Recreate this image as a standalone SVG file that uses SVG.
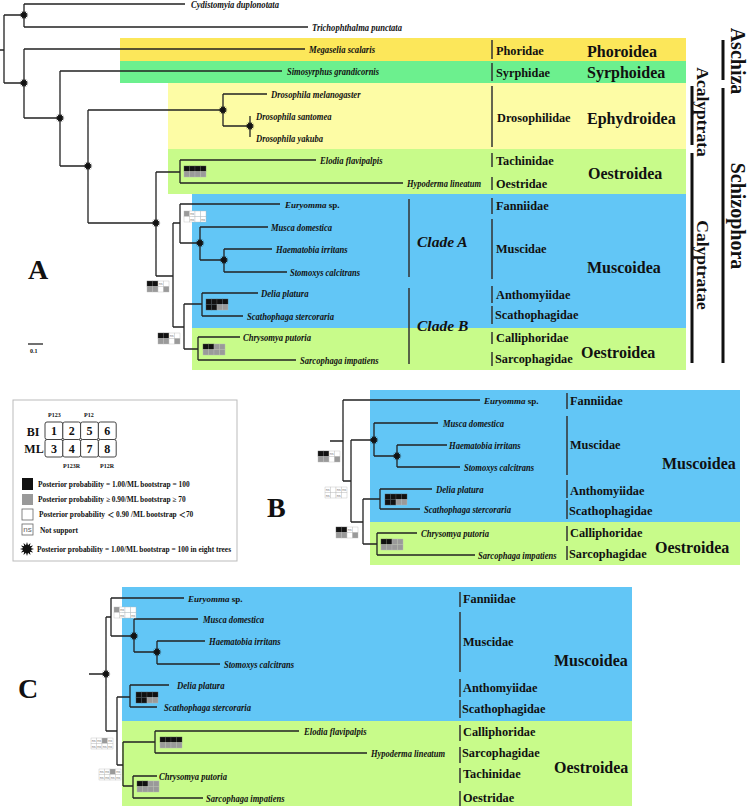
<svg xmlns="http://www.w3.org/2000/svg" width="750" height="809" viewBox="0 0 750 809">
<style>
.ln{fill:none;stroke:#222;stroke-width:1.3}
.bar{fill:none;stroke:#333;stroke-width:1.5}
.tbar{fill:none;stroke:#111;stroke-width:3}
.sp{font-family:"Liberation Serif",serif;font-style:italic;font-weight:bold;font-size:10.5px;fill:#111;dominant-baseline:central}
.eu{font-family:"Liberation Serif",serif;font-style:italic;font-weight:bold;font-size:9px;fill:#111;dominant-baseline:central}
.up{font-style:normal}
.fm{font-family:"Liberation Serif",serif;font-weight:bold;font-size:12.3px;fill:#111;dominant-baseline:central}
.sf{font-family:"Liberation Serif",serif;font-weight:bold;font-size:16px;fill:#111;dominant-baseline:central}
.cl{font-family:"Liberation Serif",serif;font-weight:bold;font-style:italic;font-size:15.5px;fill:#111;dominant-baseline:central}
.rt{font-family:"Liberation Serif",serif;font-weight:bold;fill:#111;dominant-baseline:central;text-anchor:middle}
.big{font-family:"Liberation Serif",serif;font-weight:bold;font-size:28px;fill:#111;dominant-baseline:central}
.lg{font-family:"Liberation Serif","Noto Sans CJK SC",serif;font-weight:bold;font-size:7.4px;fill:#111;dominant-baseline:central}
.sm{font-family:"Liberation Serif",serif;font-weight:bold;font-size:6px;fill:#111;dominant-baseline:central}
.gn{font-family:"Liberation Serif",serif;font-weight:bold;font-size:12px;fill:#111;dominant-baseline:central;text-anchor:middle}
.ck{fill:#111;stroke:#555;stroke-width:.4}
.cg{fill:#9a9a9a;stroke:#bbb;stroke-width:.4}
.cw{fill:#fff;stroke:#bbb;stroke-width:.4}
.nt{font-family:"Liberation Sans",sans-serif;font-size:3.8px;fill:#777;text-anchor:middle}
.star{fill:#111}
</style>
<defs>
<polygon id="star" points="1,0 .55,.147 .866,.5 .403,.403 .5,.866 .147,.55 0,1 -.147,.55 -.5,.866 -.403,.403 -.866,.5 -.55,.147 -1,0 -.55,-.147 -.866,-.5 -.403,-.403 -.5,-.866 -.147,-.55 0,-1 .147,-.55 .5,-.866 .403,-.403 .866,-.5 .55,-.147"/>
<g id="nsc"><rect class="cw" width="5.5" height="5.5"/><text class="nt" x="2.75" y="4.1">ns</text></g>
<g id="b1"><rect class="ck" x="0" y="0" width="5.5" height="5.5"/><rect class="ck" x="5.5" y="0" width="5.5" height="5.5"/><rect class="ck" x="11" y="0" width="5.5" height="5.5"/><rect class="ck" x="16.5" y="0" width="5.5" height="5.5"/><rect class="cg" x="0" y="5.5" width="5.5" height="5.5"/><rect class="cg" x="5.5" y="5.5" width="5.5" height="5.5"/><rect class="cg" x="11" y="5.5" width="5.5" height="5.5"/><rect class="cg" x="16.5" y="5.5" width="5.5" height="5.5"/></g>
<g id="b2"><rect class="ck" x="0" y="0" width="5.5" height="5.5"/><rect class="ck" x="5.5" y="0" width="5.5" height="5.5"/><rect class="ck" x="11" y="0" width="5.5" height="5.5"/><rect class="ck" x="16.5" y="0" width="5.5" height="5.5"/><rect class="ck" x="0" y="5.5" width="5.5" height="5.5"/><rect class="ck" x="5.5" y="5.5" width="5.5" height="5.5"/><rect class="cg" x="11" y="5.5" width="5.5" height="5.5"/><rect class="cg" x="16.5" y="5.5" width="5.5" height="5.5"/></g>
<g id="b3"><rect class="ck" x="0" y="0" width="5.5" height="5.5"/><rect class="ck" x="5.5" y="0" width="5.5" height="5.5"/><rect class="cg" x="11" y="0" width="5.5" height="5.5"/><rect class="cg" x="16.5" y="0" width="5.5" height="5.5"/><rect class="cg" x="0" y="5.5" width="5.5" height="5.5"/><rect class="cg" x="5.5" y="5.5" width="5.5" height="5.5"/><rect class="cg" x="11" y="5.5" width="5.5" height="5.5"/><rect class="cg" x="16.5" y="5.5" width="5.5" height="5.5"/></g>
<g id="b4"><rect class="ck" x="0" y="0" width="5.5" height="5.5"/><rect class="ck" x="5.5" y="0" width="5.5" height="5.5"/><use href="#nsc" x="11" y="0"/><rect class="cw" x="16.5" y="0" width="5.5" height="5.5"/><rect class="cg" x="0" y="5.5" width="5.5" height="5.5"/><rect class="cg" x="5.5" y="5.5" width="5.5" height="5.5"/><rect class="cw" x="11" y="5.5" width="5.5" height="5.5"/><rect class="cg" x="16.5" y="5.5" width="5.5" height="5.5"/></g>
<g id="b5"><rect class="cg" x="0" y="0" width="5.5" height="5.5"/><use href="#nsc" x="5.5" y="0"/><rect class="cw" x="11" y="0" width="5.5" height="5.5"/><rect class="cw" x="16.5" y="0" width="5.5" height="5.5"/><rect class="cw" x="0" y="5.5" width="5.5" height="5.5"/><use href="#nsc" x="5.5" y="5.5"/><rect class="cw" x="11" y="5.5" width="5.5" height="5.5"/><use href="#nsc" x="16.5" y="5.5"/></g>
<g id="b6"><use href="#nsc" x="0" y="0"/><rect class="cw" x="5.5" y="0" width="5.5" height="5.5"/><use href="#nsc" x="11" y="0"/><use href="#nsc" x="16.5" y="0"/><use href="#nsc" x="0" y="5.5"/><rect class="cw" x="5.5" y="5.5" width="5.5" height="5.5"/><use href="#nsc" x="11" y="5.5"/><rect class="cw" x="16.5" y="5.5" width="5.5" height="5.5"/></g>
<g id="b7"><use href="#nsc" x="0" y="0"/><use href="#nsc" x="5.5" y="0"/><rect class="cg" x="11" y="0" width="5.5" height="5.5"/><use href="#nsc" x="16.5" y="0"/><use href="#nsc" x="0" y="5.5"/><use href="#nsc" x="5.5" y="5.5"/><use href="#nsc" x="11" y="5.5"/><use href="#nsc" x="16.5" y="5.5"/></g>
</defs>
<rect width="750" height="809" fill="#fff"/>

<g id="backgrounds">
<rect x="120" y="38" width="566" height="23" fill="#FCE75A"/>
<rect x="120" y="61" width="566" height="22" fill="#6CF08E"/>
<rect x="168" y="83" width="518" height="66" fill="#FDFCA5"/>
<rect x="168" y="149" width="518" height="45" fill="#C8FB8A"/>
<rect x="192" y="194" width="494" height="134" fill="#62C6F6"/>
<rect x="192" y="328" width="494" height="42" fill="#C8FB8A"/>
<rect x="370" y="390" width="370" height="132" fill="#62C6F6"/>
<rect x="370" y="522" width="370" height="43" fill="#C8FB8A"/>
<rect x="122" y="587" width="510" height="134" fill="#62C6F6"/>
<rect x="122" y="721" width="510" height="85" fill="#C8FB8A"/>
</g>

<g id="connectors">
<path class="ln" d="M0,50H4M4,15V83M4,15H24M24,4V27M24,4H185M24,27H308M4,83H24M24,49V118M24,49H305M24,118H60M60,71V166M60,71H282M60,166H88M88,110V223M88,110H223M88,223H156M223,94V126M223,94H267M223,126H250M250,116V137M156,172V276M156,172H180M156,276H173M180,160V183M180,160H316M180,183H403M173,223V327M173,223H180M173,327H184M180,204V243M180,204H280M180,243H200M200,227V260M200,227H268M200,260H224M224,249V272M224,249H272M224,272H287M184,304V349M184,304H202M184,349H198M202,293V316M202,293H258M202,316H243M198,337V360M198,337H240M198,360H296"/>
<path class="ln" d="M330,441H343M343,400V481M343,400H480M343,481H351M351,440V522M351,440H374M351,522H363M374,423V456M374,423H438M374,456H397M397,445V467M397,445H447M397,467H460M363,499V544M363,499H380M363,544H377M380,489V509M380,489H432M380,509H420M377,533V555M377,533H417M377,555H475"/>
<path class="ln" d="M89,674H106M106,617V731M106,617H111M106,731H117M111,598V636M111,598H184M111,636H134M134,619V652M134,619H198M134,652H157M157,641V664M157,641H205M157,664H220M117,697V765M117,697H130M117,765H123M130,685V707M130,685H169M130,707H157M123,742V786M123,742H155M123,786H133M155,731V753M155,731H299M155,753H367M133,776V798M133,776H157M133,798H203"/>
<path d="M28,344H43" stroke="#111" stroke-width="1.2"/>
</g>

<g id="stars" class="star">
<use href="#star" transform="translate(24 15) scale(4.5)"/>
<use href="#star" transform="translate(24 83) scale(4.5)"/>
<use href="#star" transform="translate(60 118) scale(4.5)"/>
<use href="#star" transform="translate(88 166) scale(4.5)"/>
<use href="#star" transform="translate(223 110) scale(4.5)"/>
<use href="#star" transform="translate(250 126) scale(4.5)"/>
<use href="#star" transform="translate(156 223) scale(4.5)"/>
<use href="#star" transform="translate(200 243) scale(4.5)"/>
<use href="#star" transform="translate(224 260) scale(4.5)"/>
<use href="#star" transform="translate(374 440) scale(4.5)"/>
<use href="#star" transform="translate(397 456) scale(4.5)"/>
<use href="#star" transform="translate(106 674) scale(4.5)"/>
<use href="#star" transform="translate(134 636) scale(4.5)"/>
<use href="#star" transform="translate(157 652) scale(4.5)"/>
</g>

<g id="support">
<use href="#b1" x="184" y="166"/>
<use href="#b5" x="184" y="211"/>
<use href="#b4" x="147" y="281"/>
<use href="#b2" x="206" y="299"/>
<use href="#b4" x="158" y="333"/>
<use href="#b3" x="203" y="344"/>
<use href="#b4" x="318" y="451"/>
<use href="#b6" x="325" y="487"/>
<use href="#b2" x="385" y="494"/>
<use href="#b4" x="336" y="527"/>
<use href="#b3" x="381" y="539"/>
<use href="#b5" x="114" y="607"/>
<use href="#b2" x="136" y="692"/>
<use href="#b7" x="91" y="738"/>
<use href="#b1" x="160" y="737"/>
<use href="#b7" x="99" y="769"/>
<use href="#b3" x="137" y="781"/>
</g>

<g id="panelA-taxa">
<g id="A-cydistomyia"><text class="sp" x="191" y="4.5" textLength="88" lengthAdjust="spacingAndGlyphs">Cydistomyia duplonotata</text></g>
<g id="A-trichophthalma"><text class="sp" x="312" y="27.5" textLength="90" lengthAdjust="spacingAndGlyphs">Trichophthalma punctata</text></g>
<g id="A-megaselia"><text class="sp" x="309" y="49.5" textLength="66" lengthAdjust="spacingAndGlyphs">Megaselia scalaris</text></g>
<g id="A-simosyrphus"><text class="sp" x="287" y="71.5" textLength="92" lengthAdjust="spacingAndGlyphs">Simosyrphus grandicornis</text></g>
<g id="A-dmel"><text class="sp" x="271" y="94.5" textLength="89.5" lengthAdjust="spacingAndGlyphs">Drosophila melanogaster</text></g>
<g id="A-dsan"><text class="sp" x="256" y="116.5" textLength="75.5" lengthAdjust="spacingAndGlyphs">Drosophila santomea</text></g>
<g id="A-dyak"><text class="sp" x="256" y="138.5" textLength="67" lengthAdjust="spacingAndGlyphs">Drosophila yakuba</text></g>
<g id="A-elodia"><text class="sp" x="320" y="160.5" textLength="62.5" lengthAdjust="spacingAndGlyphs">Elodia flavipalpis</text></g>
<g id="A-hypoderma"><text class="sp" x="407" y="183.5" textLength="74" lengthAdjust="spacingAndGlyphs">Hypoderma lineatum</text></g>
<g id="A-euryomma"><text class="eu" x="285" y="204.5">Euryomma <tspan class="up">sp.</tspan></text></g>
<g id="A-musca"><text class="sp" x="271" y="227.5" textLength="61" lengthAdjust="spacingAndGlyphs">Musca domestica</text></g>
<g id="A-haematobia"><text class="sp" x="276" y="249.5" textLength="71.5" lengthAdjust="spacingAndGlyphs">Haematobia irritans</text></g>
<g id="A-stomoxys"><text class="sp" x="290" y="272.5" textLength="70" lengthAdjust="spacingAndGlyphs">Stomoxys calcitrans</text></g>
<g id="A-delia"><text class="sp" x="261" y="293.5" textLength="47.5" lengthAdjust="spacingAndGlyphs">Delia platura</text></g>
<g id="A-scathophaga"><text class="sp" x="247" y="316.5" textLength="87" lengthAdjust="spacingAndGlyphs">Scathophaga stercoraria</text></g>
<g id="A-chrysomya"><text class="sp" x="243" y="337.5" textLength="68" lengthAdjust="spacingAndGlyphs">Chrysomya putoria</text></g>
<g id="A-sarcophaga"><text class="sp" x="300" y="360.5" textLength="78.5" lengthAdjust="spacingAndGlyphs">Sarcophaga impatiens</text></g>
</g>

<g id="panelA-groups">
<path class="bar" d="M492,40V59M492,63V81M492,86V147M492,153V167M492,177V190M492,198V214M492,219V279M492,286V303M492,306V324M492,332V344M492,352V366"/>
<text class="fm" x="496" y="51">Phoridae</text>
<text class="fm" x="496" y="73">Syrphidae</text>
<text class="fm" x="497" y="118">Drosophilidae</text>
<text class="fm" x="496" y="161">Tachinidae</text>
<text class="fm" x="496" y="184">Oestridae</text>
<text class="fm" x="496" y="206">Fanniidae</text>
<text class="fm" x="496" y="249">Muscidae</text>
<text class="fm" x="496" y="295">Anthomyiidae</text>
<text class="fm" x="495" y="315">Scathophagidae</text>
<text class="fm" x="496" y="338">Calliphoridae</text>
<text class="fm" x="495" y="359">Sarcophagidae</text>
<text class="sf" x="587" y="51">Phoroidea</text>
<text class="sf" x="587" y="72">Syrphoidea</text>
<text class="sf" x="587" y="118">Ephydroidea</text>
<text class="sf" x="588" y="173">Oestroidea</text>
<text class="sf" x="587" y="267">Muscoidea</text>
<text class="sf" x="581" y="352">Oestroidea</text>
<path class="bar" d="M409,199V277M409,288V364" stroke="#1a2a3a"/>
<text class="cl" x="417" y="241">Clade A</text>
<text class="cl" x="417" y="325">Clade B</text>
<path class="tbar" d="M723,40V80M723,88V363"/>
<path class="tbar" d="M692,86V145M692,153V363" stroke-width="2.6"/>
<text class="rt" font-size="20" transform="translate(738 61) rotate(90)">Aschiza</text>
<text class="rt" font-size="20" transform="translate(738 216) rotate(90)">Schizophora</text>
<text class="rt" font-size="17.5" transform="translate(703 112) rotate(90)">Acalyptrata</text>
<text class="rt" font-size="17.5" transform="translate(703 265) rotate(90)">Calyptratae</text>
<text class="big" x="28" y="269">A</text>
<text class="sm" x="30" y="351" font-size="5">0.1</text>
</g>

<g id="legend">
<rect x="13" y="400" width="224" height="161" fill="#fff" stroke="#bbb" stroke-width="1"/>
<text class="sm" x="48" y="415">P123</text>
<text class="sm" x="84" y="415">P12</text>
<g fill="#fff" stroke="#444" stroke-width="1">
<rect x="45" y="422" width="17.8" height="17.5" rx="2"/>
<rect x="62.8" y="422" width="17.8" height="17.5" rx="2"/>
<rect x="80.6" y="422" width="17.8" height="17.5" rx="2"/>
<rect x="98.4" y="422" width="17.8" height="17.5" rx="2"/>
<rect x="45" y="439.5" width="17.8" height="17.5" rx="2"/>
<rect x="62.8" y="439.5" width="17.8" height="17.5" rx="2"/>
<rect x="80.6" y="439.5" width="17.8" height="17.5" rx="2"/>
<rect x="98.4" y="439.5" width="17.8" height="17.5" rx="2"/>
</g>
<text class="gn" x="53.9" y="431">1</text>
<text class="gn" x="71.7" y="431">2</text>
<text class="gn" x="89.5" y="431">5</text>
<text class="gn" x="107.3" y="431">6</text>
<text class="gn" x="53.9" y="448.5">3</text>
<text class="gn" x="71.7" y="448.5">4</text>
<text class="gn" x="89.5" y="448.5">7</text>
<text class="gn" x="107.3" y="448.5">8</text>
<text class="gn" x="33" y="432">BI</text>
<text class="gn" x="34" y="448.5">ML</text>
<text class="sm" x="63" y="466">P123R</text>
<text class="sm" x="100" y="466">P12R</text>
<rect x="22" y="478" width="11" height="12" fill="#111"/>
<text class="lg" x="38" y="484">Posterior probability = 1.00/ML bootstrap = 100</text>
<rect x="22" y="494" width="11" height="11" fill="#999"/>
<text class="lg" x="38" y="499.5">Posterior probability ≥ 0.90/ML bootstrap ≥ 70</text>
<rect x="22" y="509" width="11" height="11" fill="#fff" stroke="#666" stroke-width=".8"/>
<text class="lg" x="39" y="514.5">Posterior probability ＜ 0.90 /ML bootstrap ＜70</text>
<rect x="22" y="524" width="11" height="11" fill="#fff" stroke="#666" stroke-width=".8"/>
<text x="27.5" y="532" font-family="Liberation Sans, sans-serif" font-size="8" fill="#666" text-anchor="middle">ns</text>
<text class="lg" x="40" y="530.5">Not support</text>
<use href="#star" class="star" transform="translate(27 549) scale(7)"/>
<text class="lg" x="37" y="549.5">Posterior probability = 1.00/ML bootstrap = 100 in eight trees</text>
</g>

<g id="panelB">
<g id="B-euryomma"><text class="eu" x="484" y="400.5">Euryomma <tspan class="up">sp.</tspan></text></g>
<g id="B-musca"><text class="sp" x="443" y="423.5" textLength="61" lengthAdjust="spacingAndGlyphs">Musca domestica</text></g>
<g id="B-haematobia"><text class="sp" x="449" y="445.5" textLength="71.5" lengthAdjust="spacingAndGlyphs">Haematobia irritans</text></g>
<g id="B-stomoxys"><text class="sp" x="464" y="467.5" textLength="70" lengthAdjust="spacingAndGlyphs">Stomoxys calcitrans</text></g>
<g id="B-delia"><text class="sp" x="436" y="489.5" textLength="47.5" lengthAdjust="spacingAndGlyphs">Delia platura</text></g>
<g id="B-scathophaga"><text class="sp" x="424" y="509.5" textLength="87" lengthAdjust="spacingAndGlyphs">Scathophaga stercoraria</text></g>
<g id="B-chrysomya"><text class="sp" x="421" y="533.5" textLength="68" lengthAdjust="spacingAndGlyphs">Chrysomya putoria</text></g>
<g id="B-sarcophaga"><text class="sp" x="478" y="555.5" textLength="78.5" lengthAdjust="spacingAndGlyphs">Sarcophaga impatiens</text></g>
<path class="bar" d="M567,393V409M567,416V475M567,480V498M567,500V519M567,526V541M567,546V560"/>
<text class="fm" x="570" y="401">Fanniidae</text>
<text class="fm" x="570" y="445">Muscidae</text>
<text class="fm" x="570" y="491">Anthomyiidae</text>
<text class="fm" x="569" y="511">Scathophagidae</text>
<text class="fm" x="570" y="533">Calliphoridae</text>
<text class="fm" x="569" y="554">Sarcophagidae</text>
<text class="sf" x="662" y="463">Muscoidea</text>
<text class="sf" x="655" y="547">Oestroidea</text>
<text class="big" x="267" y="507">B</text>
</g>

<g id="panelC">
<g id="C-euryomma"><text class="eu" x="188" y="598.5">Euryomma <tspan class="up">sp.</tspan></text></g>
<g id="C-musca"><text class="sp" x="203" y="619.5" textLength="61" lengthAdjust="spacingAndGlyphs">Musca domestica</text></g>
<g id="C-haematobia"><text class="sp" x="209" y="641.5" textLength="71.5" lengthAdjust="spacingAndGlyphs">Haematobia irritans</text></g>
<g id="C-stomoxys"><text class="sp" x="224" y="664.5" textLength="70" lengthAdjust="spacingAndGlyphs">Stomoxys calcitrans</text></g>
<g id="C-delia"><text class="sp" x="177" y="685.5" textLength="47.5" lengthAdjust="spacingAndGlyphs">Delia platura</text></g>
<g id="C-scathophaga"><text class="sp" x="164" y="707.5" textLength="87" lengthAdjust="spacingAndGlyphs">Scathophaga stercoraria</text></g>
<g id="C-elodia"><text class="sp" x="304" y="731.5" textLength="62.5" lengthAdjust="spacingAndGlyphs">Elodia flavipalpis</text></g>
<g id="C-hypoderma"><text class="sp" x="371" y="753.5" textLength="74" lengthAdjust="spacingAndGlyphs">Hypoderma lineatum</text></g>
<g id="C-chrysomya"><text class="sp" x="159" y="776.5" textLength="68" lengthAdjust="spacingAndGlyphs">Chrysomya putoria</text></g>
<g id="C-sarcophaga"><text class="sp" x="206" y="798.5" textLength="78.5" lengthAdjust="spacingAndGlyphs">Sarcophaga impatiens</text></g>
<path class="bar" d="M460,592V607M460,612V672M460,679V697M460,700V718M460,725V741M460,747V763M460,768V783M460,791V806"/>
<text class="fm" x="463" y="599">Fanniidae</text>
<text class="fm" x="463" y="642">Muscidae</text>
<text class="fm" x="463" y="688">Anthomyiidae</text>
<text class="fm" x="462" y="709">Scathophagidae</text>
<text class="fm" x="463" y="732">Calliphoridae</text>
<text class="fm" x="462" y="753">Sarcophagidae</text>
<text class="fm" x="463" y="774">Tachinidae</text>
<text class="fm" x="463" y="798">Oestridae</text>
<text class="sf" x="554" y="660">Muscoidea</text>
<text class="sf" x="554" y="767">Oestroidea</text>
<text class="big" x="18" y="688">C</text>
</g>
</svg>
